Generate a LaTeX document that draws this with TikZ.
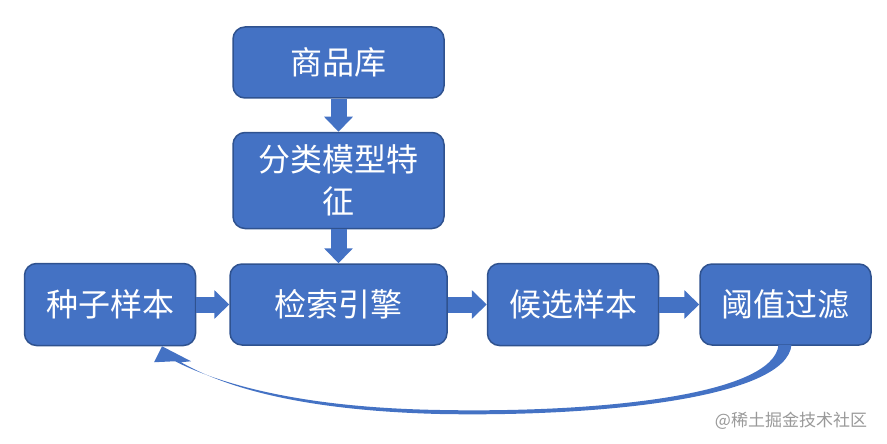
\documentclass[tikz,border=0pt]{standalone}
\usepackage{fontspec}
\newfontfamily\cjk{Noto Sans CJK SC}
\usepackage{xcolor}
\usetikzlibrary{positioning, arrows.meta, calc}
\definecolor{boxblue}{HTML}{4472C4}
\definecolor{boxedge}{HTML}{2F528F}

\begin{document}
\begin{tikzpicture}[
    x = 1pt, y = -1pt,
    node distance = 34pt,
    box/.style = {
        draw=boxedge, line width=1.5pt, fill=boxblue, rounded corners=12pt,
        text=white, font=\cjk\fontsize{32}{42}\selectfont, align=center,
        minimum width=171pt, minimum height=82pt, inner sep=2pt
    },
    fat/.style = {
        boxblue, line width=16pt, -{Triangle[length=15pt, width=28pt]}
    }
  ]
    \useasboundingbox (0,0) rectangle (887,444);
    \node[box, minimum width=217pt, minimum height=81pt] (engine) at (338.5,304.5) {检索引擎};  % 中间
    \node[box, left=33pt of engine] (seed) {种子样本};
    \node[box, right=39pt of engine] (cand) {候选样本};
    \node[box, right=40pt of cand, minimum height=81pt] (thresh) {阈值过滤};
    \node[box, above=of engine, minimum width=211pt, minimum height=96pt] (feat) {分类模型特\\征};
    \node[box, above=33pt of feat, minimum width=211pt, minimum height=71pt] (store) {商品库};
    \foreach \a/\b in {store/feat, feat/engine, seed/engine, engine/cand, cand/thresh}
        \draw[fat] (\a) -- (\b);
    % 回到种子样本
    \fill[boxblue]
        ($(thresh.south)+(6,-1)$) .. controls (787,398) and (600,417) .. (440,414)
        .. controls (320,411) and (235,393) .. ($(seed.south)+(71,16)$)
        -- ($(seed.south)+(81,15)$) -- ($(seed.south)+(52,0)$)
        -- ($(seed.south)+(44,16)$) -- ($(seed.south)+(65,15)$)
        .. controls (232,390) and (320,408) .. (440,410)
        .. controls (600,413) and (774,395) .. ($(thresh.south)+(-7,-1)$) -- cycle;
    \node[text=black!40, font=\cjk\fontsize{17}{20}\selectfont] (mark) at (791,421) {@稀土掘金技术社区};
\end{tikzpicture}
\end{document}
